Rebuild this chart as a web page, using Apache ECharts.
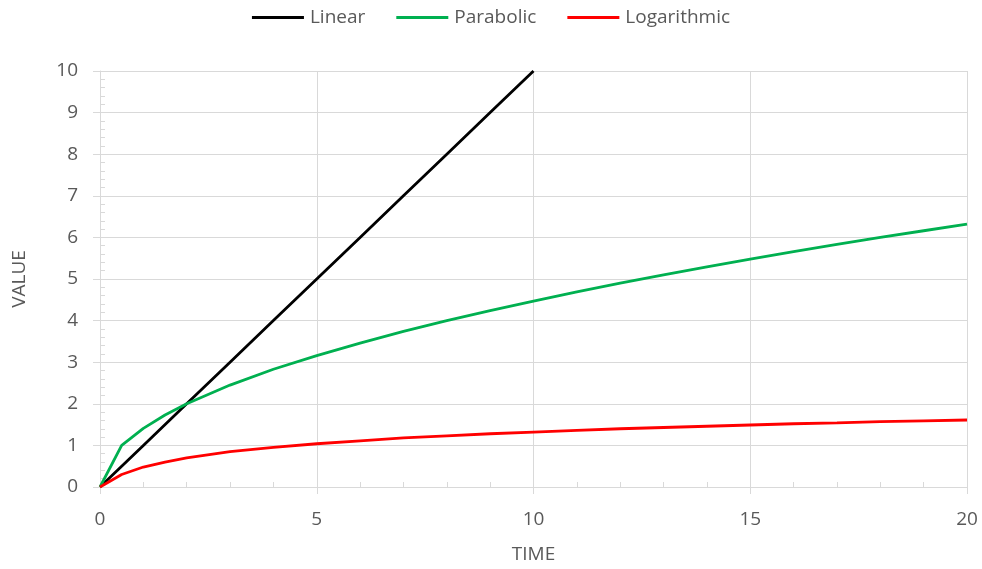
<!DOCTYPE html>
<html>
<head>
<meta charset="utf-8">
<title>Growth curves</title>
<script src="https://cdn.jsdelivr.net/npm/echarts@6/dist/echarts.min.js"></script>
<style>
  html, body { margin: 0; padding: 0; background: #fff; }
  #chart { width: 982px; height: 569px; }
</style>
</head>
<body>
<div id="chart"></div>
<script>
// Sample times and the three curves
const timeValues = [0, 0.5, 1, 1.5, 2, 3, 4, 5, 6, 7, 8, 9, 10, 11, 12, 13, 14, 15, 16, 17, 18, 19, 20];
const linearTimes = [0, 1, 2, 3, 4, 5, 6, 7, 8, 9, 10];
const linearValues = [0, 1, 2, 3, 4, 5, 6, 7, 8, 9, 10];
const parabolicValues = [0, 1, 1.41, 1.73, 2, 2.45, 2.83, 3.16, 3.46, 3.74, 4, 4.24, 4.47, 4.69, 4.9, 5.1, 5.29, 5.48, 5.66, 5.83, 6, 6.16, 6.32];
const logValues = [0, 0.3, 0.48, 0.6, 0.7, 0.85, 0.95, 1.04, 1.11, 1.18, 1.23, 1.28, 1.32, 1.36, 1.4, 1.43, 1.46, 1.49, 1.52, 1.54, 1.57, 1.59, 1.61];

const seriesNames = ['Linear', 'Parabolic', 'Logarithmic'];
const xAxisTitle = 'TIME';
const yAxisTitle = 'VALUE';

const FONT = '"Open Sans", Lato, sans-serif';
const GRID = '#d9d9d9';
const TEXT = '#595959';

const pairs = (xs, ys) => xs.map((x, i) => [x, ys[i]]);

const lineSeries = (name, color, data) => ({
  name: name,
  type: 'line',
  xAxisIndex: 0,
  yAxisIndex: 0,
  data: data,
  symbol: 'none',
  smooth: false,
  lineStyle: { color: color, width: 2.8 },
  itemStyle: { color: color },
  emphasis: { disabled: true },
  z: 3
});

const chart = echarts.init(document.getElementById('chart'), null, { renderer: 'canvas' });

chart.setOption({
  animation: false,
  backgroundColor: '#ffffff',
  textStyle: { fontFamily: FONT },
  legend: {
    top: 3,
    left: 'center',
    icon: 'rect',
    itemWidth: 52,
    itemHeight: 2.8,
    itemGap: 31,
    textStyle: { fontFamily: FONT, fontSize: 19, color: TEXT, padding: [0, 0, 0, 1] },
    data: seriesNames
  },
  grid: { left: 100, right: 15, top: 71, bottom: 80, containLabel: false },
  xAxis: [
    {
      type: 'value',
      min: 0, max: 20, interval: 5,
      name: xAxisTitle,
      nameLocation: 'middle',
      nameGap: 58,
      nameTextStyle: { fontFamily: FONT, fontSize: 19, color: TEXT },
      axisLine: { show: true, lineStyle: { color: GRID, width: 1 } },
      axisTick: { show: true, inside: false, length: 7, lineStyle: { color: GRID, width: 1 } },
      axisLabel: { margin: 23, fontFamily: FONT, fontSize: 19, color: TEXT },
      splitLine: { show: true, lineStyle: { color: GRID, width: 1 } }
    },
    {
      // minor tick marks every unit, pointing into the plot
      type: 'value',
      position: 'bottom',
      min: 0, max: 20, interval: 1,
      axisLine: { show: false },
      axisTick: { show: true, inside: true, length: 5, lineStyle: { color: GRID, width: 1 } },
      axisLabel: { show: false },
      splitLine: { show: false }
    }
  ],
  yAxis: [
    {
      type: 'value',
      min: 0, max: 10, interval: 1,
      name: yAxisTitle,
      nameLocation: 'middle',
      nameGap: 71,
      nameRotate: 90,
      nameTextStyle: { fontFamily: FONT, fontSize: 19, color: TEXT },
      axisLine: { show: true, lineStyle: { color: GRID, width: 1 } },
      axisTick: { show: true, inside: false, length: 7, lineStyle: { color: GRID, width: 1 } },
      axisLabel: { margin: 22, fontFamily: FONT, fontSize: 19, color: TEXT },
      splitLine: { show: true, lineStyle: { color: GRID, width: 1 } }
    },
    {
      // minor tick marks every 0.2, pointing into the plot
      type: 'value',
      position: 'left',
      offset: 0,
      min: 0, max: 10, interval: 0.2,
      axisLine: { show: false },
      axisTick: { show: true, inside: true, length: 5, lineStyle: { color: GRID, width: 1 } },
      axisLabel: { show: false },
      splitLine: { show: false }
    }
  ],
  series: [
    lineSeries('Linear', '#000000', pairs(linearTimes, linearValues)),
    lineSeries('Parabolic', '#00b050', pairs(timeValues, parabolicValues)),
    lineSeries('Logarithmic', '#ff0000', pairs(timeValues, logValues))
  ]
});
</script>
</body>
</html>
